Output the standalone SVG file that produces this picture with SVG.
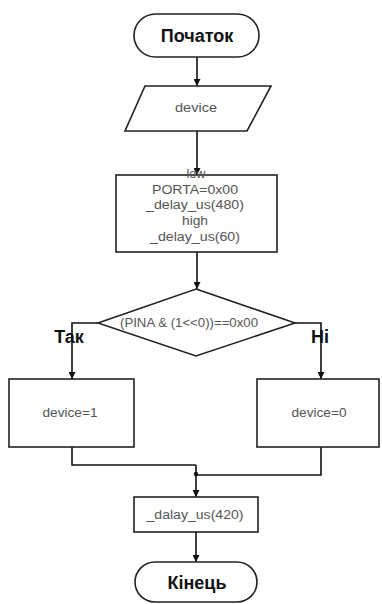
<svg xmlns="http://www.w3.org/2000/svg" width="382" height="604" viewBox="0 0 382 604">
<style>
.s{fill:#fff;stroke:#222;stroke-width:1.6}
.c{fill:none;stroke:#111;stroke-width:1.6}
.t{font-family:"Liberation Sans",Arial,sans-serif;font-size:12px;fill:#555;text-anchor:middle}
.tb{font-family:"Liberation Sans",Arial,sans-serif;font-size:18px;font-weight:bold;fill:#111;text-anchor:middle}
</style>
<defs>
<marker id="a" viewBox="0 0 10 10" refX="10" refY="5" markerWidth="7" markerHeight="7" orient="auto" markerUnits="userSpaceOnUse"><path d="M0,0 L10,5 L0,10 z" fill="#111"/></marker>
</defs>
<rect width="382" height="604" fill="#fff"/>
<g id="connectors">
<path class="c" d="M197,57 V86" marker-end="url(#a)"/>
<path class="c" d="M197,131 V175" marker-end="url(#a)"/>
<path class="c" d="M197,252 V289" marker-end="url(#a)"/>
<path class="c" d="M98,323 H72 V379" marker-end="url(#a)"/>
<path class="c" d="M295,323 H321 V379" marker-end="url(#a)"/>
<path class="c" d="M72,447 V465 H196"/>
<path class="c" d="M321,447 V475 H196"/>
<path class="c" d="M196,465 V497" marker-end="url(#a)"/>
<circle cx="196" cy="474" r="2.2" fill="#111"/>
<path class="c" d="M196,532 V562" marker-end="url(#a)"/>
</g>
<g id="start">
<rect class="s" x="134" y="14" width="125" height="43" rx="21.5"/>
<text class="tb" x="197" y="42">Початок</text>
</g>
<g id="input">
<polygon class="s" points="145,86 271,86 247,131 125,131"/>
<text class="t" x="196" y="112" textLength="42" lengthAdjust="spacingAndGlyphs">device</text>
</g>
<g id="init">
<rect class="s" x="116" y="175" width="161" height="77"/>
<text class="t" x="196" y="178" textLength="19" lengthAdjust="spacingAndGlyphs">low</text>
<text class="t" x="195" y="194" textLength="86" lengthAdjust="spacingAndGlyphs">PORTA=0x00</text>
<text class="t" x="195" y="209" textLength="98" lengthAdjust="spacingAndGlyphs">_delay_us(480)</text>
<text class="t" x="195" y="225" textLength="26" lengthAdjust="spacingAndGlyphs">high</text>
<text class="t" x="195" y="241" textLength="90" lengthAdjust="spacingAndGlyphs">_delay_us(60)</text>
</g>
<g id="decision">
<polygon class="s" points="196,289 295,323 196,356 98,323"/>
<text class="t" x="189" y="327" textLength="138" lengthAdjust="spacingAndGlyphs">(PINA &amp; (1&lt;&lt;0))==0x00</text>
</g>
<text class="tb" x="69" y="343">Так</text>
<text class="tb" x="320" y="343">Ні</text>
<g id="yes">
<rect class="s" x="9" y="379" width="125" height="68"/>
<text class="t" x="70" y="417" textLength="55" lengthAdjust="spacingAndGlyphs">device=1</text>
</g>
<g id="no">
<rect class="s" x="257" y="379" width="122" height="68"/>
<text class="t" x="319" y="417" textLength="55" lengthAdjust="spacingAndGlyphs">device=0</text>
</g>
<g id="delay">
<rect class="s" x="134" y="497" width="124" height="35"/>
<text class="t" x="195" y="519" textLength="97" lengthAdjust="spacingAndGlyphs">_dalay_us(420)</text>
</g>
<g id="end">
<rect class="s" x="135" y="562" width="122" height="40" rx="20"/>
<text class="tb" x="197" y="589">Кінець</text>
</g>
</svg>
